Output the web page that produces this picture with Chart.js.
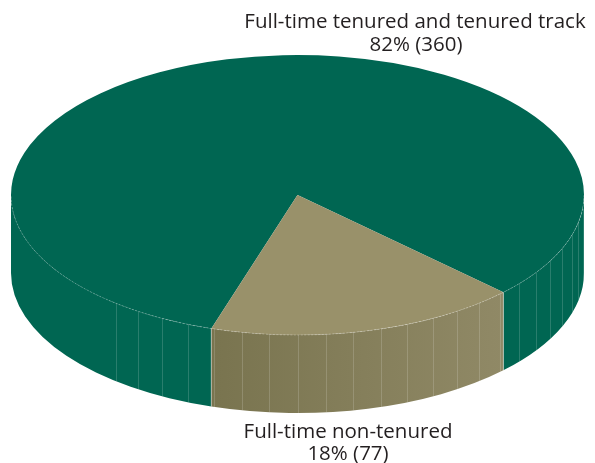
<!DOCTYPE html>
<html>
<head>
<meta charset="utf-8">
<script src="https://cdn.jsdelivr.net/npm/chart.js@4/dist/chart.umd.min.js"></script>
<style>
  html, body { margin: 0; padding: 0; background: #fff; }
  #graf { display: block; }
</style>
</head>
<body>
<canvas id="graf" width="595" height="463"></canvas>
<script>
// Dados
const categories = ['Full-time tenured and tenured track', 'Full-time non-tenured']
const values = [360, 77]

const total = values.reduce((a, b) => a + b, 0)
const pct = values.map(v => Math.round(v / total * 100) + '% (' + v + ')')

// ellipse geometry of the 3D pie (screen px)
const CX = 297.5, CY = 195, RX = 286.5, RY = 140, DEPTH = 78

const sideColors = ['#006652', null]

function ept(t, dy) {
    return [CX + RX * Math.cos(t), CY + (dy || 0) + RY * Math.sin(t)]
}

// plugin que faz o efeito 3D
const pie3d = {
    id: 'pie3d',
    beforeDatasetsDraw(chart) {
        const ctx = chart.ctx
        const arcs = chart.getDatasetMeta(0).data
        const TWO = Math.PI * 2

        arcs.forEach((el, i) => {
            const s = el.startAngle, e = el.endAngle
            for (let k = -1; k <= 2; k++) {
                const a = Math.max(s, k * TWO), b = Math.min(e, k * TWO + Math.PI)
                if (b <= a) continue
                ctx.save()
                ctx.beginPath()
                ctx.ellipse(CX, CY, RX, RY, 0, a, b)
                ctx.ellipse(CX, CY + DEPTH, RX, RY, 0, b, a, true)
                ctx.closePath()
                if (sideColors[i]) {
                    ctx.fillStyle = sideColors[i]
                } else {
                    const x1 = ept(a)[0], x2 = ept(b)[0]
                    const g = ctx.createLinearGradient(Math.min(x1, x2), 0, Math.max(x1, x2), 0)
                    g.addColorStop(0, '#79744f')
                    g.addColorStop(1, '#908966')
                    ctx.fillStyle = g
                }
                ctx.fill()
                ctx.clip()

                // facetas verticais
                ctx.strokeStyle = 'rgba(255,255,255,0.16)'
                ctx.lineWidth = 1
                const step = Math.PI / 32
                for (let t = Math.ceil(a / step) * step; t < b; t += step) {
                    const tt = ((t % TWO) + TWO) % TWO
                    if (tt > Math.PI * 0.75) continue
                    const p = ept(t)
                    ctx.beginPath()
                    ctx.moveTo(Math.round(p[0]) + 0.5, p[1])
                    ctx.lineTo(Math.round(p[0]) + 0.5, p[1] + DEPTH)
                    ctx.stroke()
                }
                ctx.restore()

                // arestas das fatias
                ctx.save()
                ctx.strokeStyle = 'rgba(255,255,255,0.3)'
                ctx.lineWidth = 1
                ;[a, b].forEach(t => {
                    if (Math.abs(t - k * TWO) < 1e-6 || Math.abs(t - k * TWO - Math.PI) < 1e-6) return
                    const p = ept(t)
                    ctx.beginPath()
                    ctx.moveTo(p[0], p[1])
                    ctx.lineTo(p[0], p[1] + DEPTH)
                    ctx.stroke()
                })
                ctx.restore()
            }
        })

        // achata o topo da pizza
        const el0 = arcs[0]
        const r0 = el0.outerRadius
        ctx.save()
        ctx.translate(CX, CY)
        ctx.scale(RX / r0, RY / r0)
        ctx.translate(-el0.x, -el0.y)
    },
    afterDatasetsDraw(chart) {
        const ctx = chart.ctx
        ctx.restore()

        // borda frontal do topo
        ctx.save()
        ctx.strokeStyle = 'rgba(255,255,255,0.35)'
        ctx.lineWidth = 0.8
        ctx.setLineDash([2, 1.5])
        ctx.beginPath()
        ctx.ellipse(CX, CY, RX, RY, 0, 0, Math.PI)
        ctx.stroke()
        ctx.restore()

        // rótulos
        ctx.save()
        ctx.fillStyle = '#231f20'
        ctx.textAlign = 'center'
        ctx.textBaseline = 'alphabetic'
        ctx.font = '20.5px "Open Sans"'
        ctx.fillText(categories[0], 415, 28)
        ctx.fillText(pct[0], 416, 51)
        ctx.fillText(categories[1], 348, 438)
        ctx.fillText(pct[1], 348, 460)
        ctx.restore()
    }
}

const ctx = document.getElementById('graf').getContext('2d')

const config = {
    type: 'pie',
    data: {
        labels: categories,
        datasets: [{
            data: values,
            backgroundColor: ['#006652', '#99916a'],
            borderWidth: 0,
            clip: false
        }]
    },
    options: {
        responsive: false,
        animation: false,
        events: [],
        rotation: 197.5,
        layout: { padding: 0 },
        plugins: {
            legend: { display: false },
            tooltip: { enabled: false }
        }
    },
    plugins: [pie3d]
}

const grafic = new Chart(ctx, config)
</script>
</body>
</html>
